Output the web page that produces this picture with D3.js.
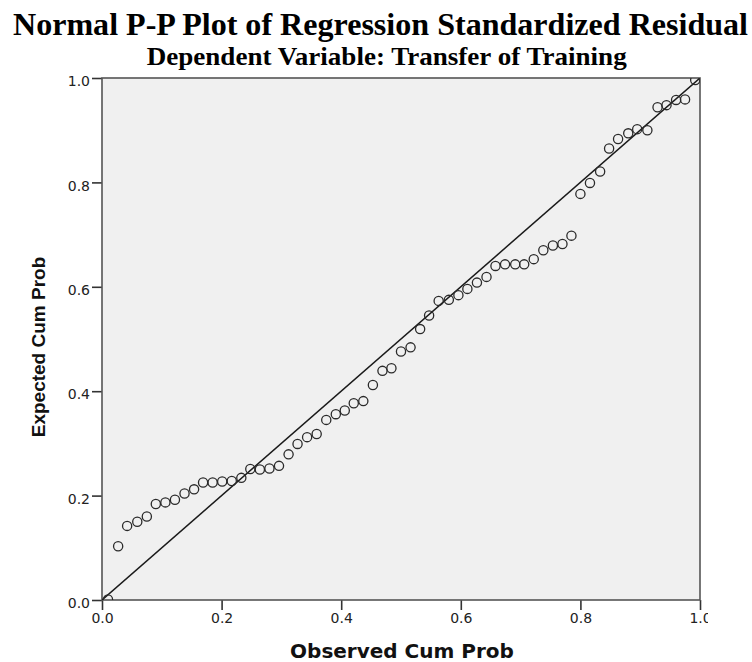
<!DOCTYPE html>
<html>
<head>
<meta charset="utf-8">
<script src="https://cdn.jsdelivr.net/npm/d3@7"></script>
<style>
  body { margin: 0; background: #fff; }
</style>
</head>
<body>
<script>
/*** data ***/
// observed cumulative probability (x) for each residual
const observedCum = [0.010, 0.027, 0.042, 0.059, 0.075, 0.090, 0.106, 0.122, 0.138, 0.154,
  0.169, 0.185, 0.201, 0.217, 0.233, 0.248, 0.264, 0.280, 0.296, 0.312,
  0.327, 0.343, 0.359, 0.375, 0.391, 0.406, 0.421, 0.437, 0.453, 0.469,
  0.484, 0.500, 0.516, 0.532, 0.547, 0.563, 0.580, 0.596, 0.611, 0.627,
  0.643, 0.658, 0.674, 0.691, 0.706, 0.722, 0.738, 0.754, 0.770, 0.785,
  0.800, 0.816, 0.833, 0.848, 0.863, 0.880, 0.895, 0.912, 0.929, 0.944,
  0.960, 0.975, 0.992];
// expected cumulative probability (y)
const expectedCum = [0.001, 0.103, 0.142, 0.150, 0.160, 0.184, 0.187, 0.192, 0.204, 0.212,
  0.225, 0.225, 0.227, 0.228, 0.234, 0.251, 0.250, 0.252, 0.257, 0.279,
  0.299, 0.312, 0.318, 0.345, 0.356, 0.363, 0.377, 0.381, 0.412, 0.439,
  0.444, 0.476, 0.484, 0.519, 0.545, 0.573, 0.575, 0.584, 0.596, 0.608,
  0.619, 0.640, 0.643, 0.643, 0.643, 0.653, 0.670, 0.679, 0.682, 0.698,
  0.778, 0.799, 0.821, 0.865, 0.883, 0.894, 0.902, 0.900, 0.944, 0.948,
  0.958, 0.959, 0.996];
const tickValues = [0, 0.2, 0.4, 0.6, 0.8, 1.0];
const diagonal = [0, 1];

/*** layout ***/
const width = 752, height = 662;
const plot = { left: 102, right: 700, top: 78, bottom: 600 };

const x = d3.scaleLinear().domain([0, 1]).range([plot.left, plot.right]);
const y = d3.scaleLinear().domain([0, 1]).range([plot.bottom, plot.top]);

const svg = d3.select("body").append("svg")
  .attr("width", width)
  .attr("height", height)
  .attr("viewBox", [0, 0, width, height]);

const defs = svg.append("defs");
defs.append("clipPath").attr("id", "plotclip")
  .append("rect")
  .attr("x", plot.left).attr("y", plot.top)
  .attr("width", plot.right - plot.left).attr("height", plot.bottom - plot.top);
// SPSS cuts the last tick label off at the chart edge
defs.append("clipPath").attr("id", "labelclip")
  .append("rect")
  .attr("x", 0).attr("y", 0).attr("width", 708).attr("height", height);

/*** titles ***/
svg.append("text")
  .attr("x", 380.5).attr("y", 35)
  .attr("text-anchor", "middle")
  .attr("font-family", "'Liberation Serif', 'Times New Roman', serif")
  .attr("font-weight", "bold")
  .attr("font-size", 31.7)
  .attr("textLength", 735)
  .attr("lengthAdjust", "spacingAndGlyphs")
  .text("Normal P-P Plot of Regression Standardized Residual");

svg.append("text")
  .attr("x", 386.7).attr("y", 65)
  .attr("text-anchor", "middle")
  .attr("font-family", "'Liberation Serif', 'Times New Roman', serif")
  .attr("font-weight", "bold")
  .attr("font-size", 26.2)
  .attr("textLength", 480)
  .attr("lengthAdjust", "spacingAndGlyphs")
  .text("Dependent Variable: Transfer of Training");

/*** plot area ***/
svg.append("rect")
  .attr("x", plot.left).attr("y", plot.top)
  .attr("width", plot.right - plot.left).attr("height", plot.bottom - plot.top)
  .attr("fill", "#f0f0f0");

// axes
const xAxis = svg.append("g")
  .attr("transform", `translate(0,${plot.bottom})`)
  .attr("clip-path", "url(#labelclip)")
  .call(d3.axisBottom(x).tickValues(tickValues).tickFormat(d3.format(".1f")).tickSize(10).tickPadding(3));

const yAxis = svg.append("g")
  .attr("transform", `translate(${plot.left},0)`)
  .call(d3.axisLeft(y).tickValues(tickValues).tickFormat(d3.format(".1f")).tickSize(10).tickPadding(2));

[xAxis, yAxis].forEach(g => {
  g.select(".domain").remove();
  g.selectAll(".tick line").attr("stroke", "#333").attr("stroke-width", 1.6);
  g.selectAll(".tick text")
    .attr("fill", "#222")
    .attr("font-family", "'DejaVu Sans', sans-serif")
    .attr("font-size", 14);
});
yAxis.selectAll(".tick text").attr("dy", "0.55em");

// frame
svg.append("rect")
  .attr("x", plot.left).attr("y", plot.top)
  .attr("width", plot.right - plot.left).attr("height", plot.bottom - plot.top)
  .attr("fill", "none")
  .attr("stroke", "#555")
  .attr("stroke-width", 1.6);

const g = svg.append("g").attr("clip-path", "url(#plotclip)");

// reference line
g.append("line")
  .attr("x1", x(diagonal[0])).attr("y1", y(diagonal[0]))
  .attr("x2", x(diagonal[1])).attr("y2", y(diagonal[1]))
  .attr("stroke", "#1a1a1a")
  .attr("stroke-width", 1.5);

// points
g.selectAll("circle")
  .data(d3.zip(observedCum, expectedCum))
  .join("circle")
  .attr("cx", d => x(d[0]))
  .attr("cy", d => y(d[1]))
  .attr("r", 4.6)
  .attr("fill", "none")
  .attr("stroke", "#2a2a2a")
  .attr("stroke-width", 1.3);

/*** axis titles ***/
svg.append("text")
  .attr("x", 402).attr("y", 658)
  .attr("text-anchor", "middle")
  .attr("font-family", "'DejaVu Sans', sans-serif")
  .attr("font-weight", "bold")
  .attr("font-size", 20)
  .attr("fill", "#111")
  .text("Observed Cum Prob");

svg.append("text")
  .attr("transform", "translate(45,347) rotate(-90)")
  .attr("text-anchor", "middle")
  .attr("font-family", "'Liberation Sans', Arial, sans-serif")
  .attr("font-weight", "bold")
  .attr("font-size", 19)
  .attr("fill", "#111")
  .text("Expected Cum Prob");
</script>
</body>
</html>
